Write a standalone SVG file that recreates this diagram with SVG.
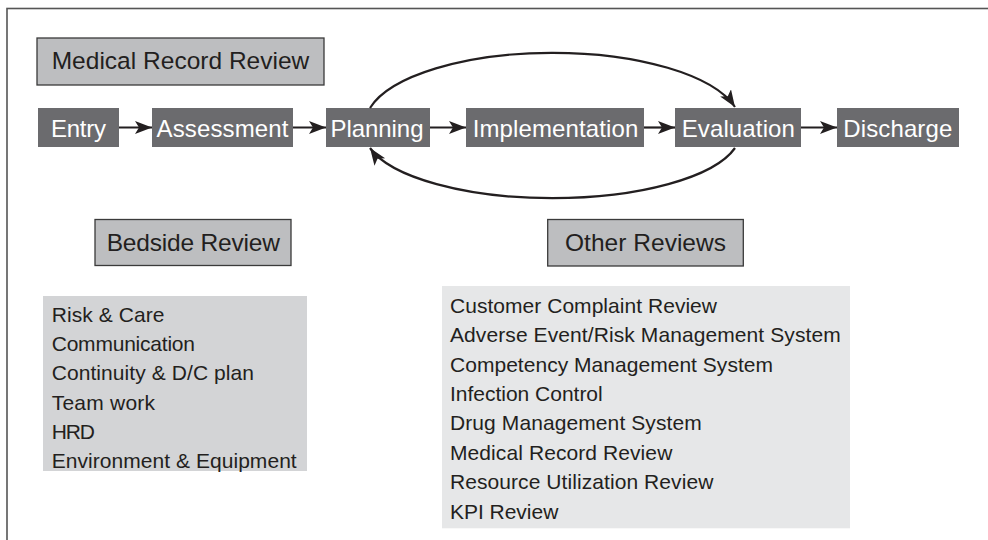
<svg xmlns="http://www.w3.org/2000/svg" width="988" height="540" viewBox="0 0 988 540">
<style>
.flow rect{fill:#6b6b6e}
.flow text{fill:#ffffff;font-family:"Liberation Sans",Arial,sans-serif;font-size:24px;text-anchor:middle}
.title rect{fill:#bdbec0;stroke:#3a3a3a;stroke-width:1.3}
.title text{fill:#231f20;font-family:"Liberation Sans",Arial,sans-serif;font-size:24.5px;text-anchor:middle}
.list text{fill:#231f20;font-family:"Liberation Sans",Arial,sans-serif;font-size:21px}
.conn{fill:none;stroke:#231f20;stroke-width:2.2}
</style>
<defs>
<marker id="ah" markerUnits="userSpaceOnUse" markerWidth="18" markerHeight="14" refX="17" refY="6.5" orient="auto" viewBox="0 0 18 14">
<path d="M0,0 L17,6.5 L0,13 L4,6.5 Z" fill="#231f20"/>
</marker>
</defs>
<rect x="0" y="0" width="988" height="540" fill="#ffffff"/>
<rect x="7" y="8.5" width="1000" height="560" fill="none" stroke="#555555" stroke-width="1.6"/>

<g id="medical-record-review" class="title">
<rect x="37" y="38" width="287" height="47"/>
<text x="180.5" y="69.3" textLength="257.6" lengthAdjust="spacing">Medical Record Review</text>
</g>

<g id="entry" class="flow"><rect x="38" y="108" width="81" height="39"/><text x="78.5" y="136.5" textLength="55" lengthAdjust="spacing">Entry</text></g>
<g id="assessment" class="flow"><rect x="152" y="108" width="141" height="39"/><text x="222.5" y="136.5" textLength="132" lengthAdjust="spacing">Assessment</text></g>
<g id="planning" class="flow"><rect x="326" y="108" width="104" height="39"/><text x="377" y="136.5" textLength="93" lengthAdjust="spacing">Planning</text></g>
<g id="implementation" class="flow"><rect x="466" y="108" width="178" height="39"/><text x="555.5" y="136.5" textLength="165.7" lengthAdjust="spacing">Implementation</text></g>
<g id="evaluation" class="flow"><rect x="675" y="108" width="126" height="39"/><text x="738.3" y="136.5" textLength="113.3" lengthAdjust="spacing">Evaluation</text></g>
<g id="discharge" class="flow"><rect x="837" y="108" width="122" height="39"/><text x="897.8" y="136.5" textLength="109" lengthAdjust="spacing">Discharge</text></g>

<g id="connectors">
<path class="conn" d="M119,127.5 L152,127.5" marker-end="url(#ah)"/>
<path class="conn" d="M293,127.5 L326,127.5" marker-end="url(#ah)"/>
<path class="conn" d="M430,127.5 L466,127.5" marker-end="url(#ah)"/>
<path class="conn" d="M644,127.5 L675,127.5" marker-end="url(#ah)"/>
<path class="conn" d="M801,127.5 L837,127.5" marker-end="url(#ah)"/>
<path class="conn" d="M370,108 A188,72 0 0 1 735,107" marker-end="url(#ah)"/>
<path class="conn" d="M735,148 A188,66 0 0 1 370,148" marker-end="url(#ah)"/>
</g>

<g id="bedside-review" class="title">
<rect x="95" y="219.5" width="196" height="46"/>
<text x="193.3" y="250.7" textLength="173.3" lengthAdjust="spacing">Bedside Review</text>
</g>

<g id="other-reviews" class="title">
<rect x="547.7" y="219.5" width="195.6" height="46.5"/>
<text x="645.5" y="251" textLength="161" lengthAdjust="spacing">Other Reviews</text>
</g>

<g id="bedside-list" class="list">
<rect x="43" y="296" width="264" height="175" fill="#d3d4d6"/>
<text x="51.7" y="321.7" textLength="112.7" lengthAdjust="spacing">Risk &amp; Care</text>
<text x="51.7" y="351" textLength="143.3" lengthAdjust="spacing">Communication</text>
<text x="51.7" y="380.3" textLength="202.3" lengthAdjust="spacing">Continuity &amp; D/C plan</text>
<text x="51.7" y="409.6" textLength="103.3" lengthAdjust="spacing">Team work</text>
<text x="51.7" y="438.9" textLength="43.3" lengthAdjust="spacing">HRD</text>
<text x="51.7" y="468.2" textLength="245" lengthAdjust="spacing">Environment &amp; Equipment</text>
</g>

<g id="other-list" class="list">
<rect x="442" y="286" width="408" height="242.3" fill="#e6e7e8"/>
<text x="450" y="312.7" textLength="267" lengthAdjust="spacing">Customer Complaint Review</text>
<text x="450" y="342.1" textLength="390.7" lengthAdjust="spacing">Adverse Event/Risk Management System</text>
<text x="450" y="371.5" textLength="323" lengthAdjust="spacing">Competency Management System</text>
<text x="450" y="400.9" textLength="152.7" lengthAdjust="spacing">Infection Control</text>
<text x="450" y="430.3" textLength="251.7" lengthAdjust="spacing">Drug Management System</text>
<text x="450" y="459.7" textLength="222.3" lengthAdjust="spacing">Medical Record Review</text>
<text x="450" y="489.1" textLength="263.3" lengthAdjust="spacing">Resource Utilization Review</text>
<text x="450" y="518.5" textLength="108.3" lengthAdjust="spacing">KPI Review</text>
</g>
</svg>
